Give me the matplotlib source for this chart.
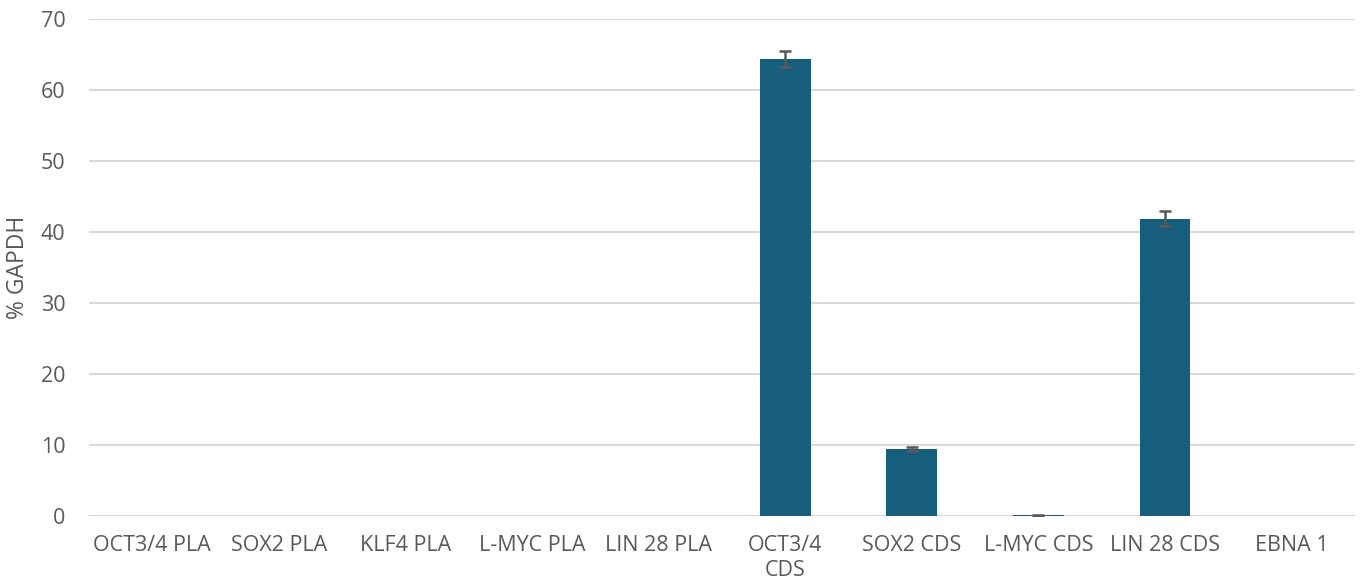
import matplotlib
matplotlib.use("Agg")
import matplotlib.pyplot as plt
import numpy as np

# Expression of reprogramming factors, % of GAPDH
categories = ["OCT3/4 PLA", "SOX2 PLA", "KLF4 PLA", "L-MYC PLA", "LIN 28 PLA",
              "OCT3/4\nCDS", "SOX2 CDS", "L-MYC CDS", "LIN 28 CDS", "EBNA 1"]
values = [0, 0, 0, 0, 0, 64.4, 9.4, 0.1, 41.9, 0]
errors = [0, 0, 0, 0, 0, 1.1, 0.3, 0.1, 1.1, 0]
yticks = [0, 10, 20, 30, 40, 50, 60, 70]

plt.rcParams['font.family'] = ['Open Sans', 'DejaVu Sans']

fig = plt.figure(figsize=(13.63, 5.88), dpi=100)
ax = fig.add_axes([0.0653, 0.1224, 0.9287, 0.8453])

x = np.arange(len(categories))
ax.bar(x, values, width=0.4, color="#175E7E", zorder=3)
# only draw error bars where there is a measurable value
has_err = [i for i in range(len(values)) if values[i] > 0]
ax.errorbar(x[has_err], [values[i] for i in has_err], yerr=[errors[i] for i in has_err],
            fmt="none", ecolor="#595959", elinewidth=1.8, capsize=4.5, capthick=1.8, zorder=4)

ax.set_xlim(-0.5, len(categories) - 0.5)
ax.set_ylim(0, 70)
ax.set_yticks(yticks)
ax.yaxis.grid(True, color="#D9D9D9", linewidth=1.5, zorder=0)
for s in ax.spines.values():
    s.set_visible(False)
ax.tick_params(axis="both", length=0, labelsize=15.5, colors="#595959")
ax.tick_params(axis="y", pad=17)
ax.tick_params(axis="x", pad=14)
ax.set_xticks(x)
ax.set_xticklabels(categories, linespacing=1.25)
ax.set_ylabel("% GAPDH", fontsize=16.5, color="#595959")
ax.yaxis.set_label_coords(-0.047, 0.5)

fig.savefig("out.png", dpi=100)
